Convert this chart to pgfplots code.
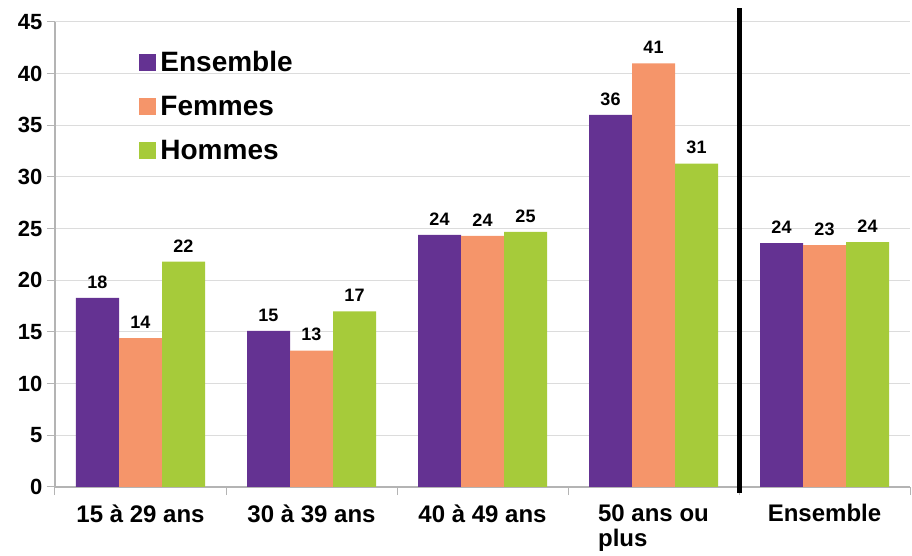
\documentclass[border=0pt]{standalone}
\usepackage{fontspec}
\setmainfont{Liberation Sans}
\usepackage{pgfplots}
\pgfplotsset{compat=1.18}

\definecolor{cEns}{HTML}{643292}
\definecolor{cFem}{HTML}{F5956A}
\definecolor{cHom}{HTML}{A6CB3A}
\definecolor{gridc}{HTML}{DCDCDC}
\definecolor{axc}{HTML}{B4B4B4}

\begin{document}
\begin{tikzpicture}
\useasboundingbox (-55pt,-69pt) rectangle (857pt,487pt);
\begin{axis}[
	at={(0pt,0pt)}, anchor=south west,
	scale only axis,
	width=855pt, height=465pt,
	ybar=0pt, bar width=43pt,
	xmin=-0.5, xmax=4.5,
	ymin=0, ymax=45,
	ytick={0,5,...,45},
	xtick={0,1,2,3,4},
	xticklabels={{15 à 29 ans},{30 à 39 ans},{40 à 49 ans},{50 ans ou\\plus},{Ensemble}},
	minor xtick={-0.5,0.5,1.5,2.5,3.5,4.5},
	major x tick style={draw=none},
	minor x tick style={axc, line width=1pt},
	y tick style={axc, line width=1pt},
	tick align=outside,
	major tick length=8pt, minor tick length=8pt,
	axis x line*=bottom, axis y line*=left,
	axis line style={axc, line width=1.2pt, -},
	ymajorgrids, grid style={gridc, line width=1pt},
	/pgf/number format/assume math mode=true,
	yticklabel style={font=\bfseries\fontsize{22}{24}\selectfont, xshift=-1pt},
	xticklabel style={font=\bfseries\fontsize{24}{25}\selectfont, align=left, yshift=-6pt},
	nodes near coords,
	nodes near coords style={font=\bfseries\fontsize{18}{20}\selectfont, yshift=6pt, /pgf/number format/.cd, fixed, precision=0},
	legend style={at={(rel axis cs:0.095,0.946)}, anchor=north west, draw=none, fill=none,
		font=\bfseries\fontsize{28}{30}\selectfont, row sep=19pt,
		nodes={inner xsep=4pt}},
	legend cell align=left,
	legend image code/.code={\fill[#1] (0pt,-8.5pt) rectangle (17pt,8.5pt);},
	clip=false,
]
\addplot[fill=cEns, draw=none] coordinates {(0,18.3) (1,15.1) (2,24.4) (3,36.0) (4,23.6)};
\addlegendentry{Ensemble}
\addplot[fill=cFem, draw=none] coordinates {(0,14.4) (1,13.2) (2,24.3) (3,41.0) (4,23.4)};
\addlegendentry{Femmes}
\addplot[fill=cHom, draw=none] coordinates {(0,21.8) (1,17.0) (2,24.7) (3,31.3) (4,23.7)};
\addlegendentry{Hommes}
\draw[line width=5pt, black] ([yshift=-6pt]axis cs:3.5,0) -- ([yshift=14pt]axis cs:3.5,45);
\end{axis}
\end{tikzpicture}
\end{document}
